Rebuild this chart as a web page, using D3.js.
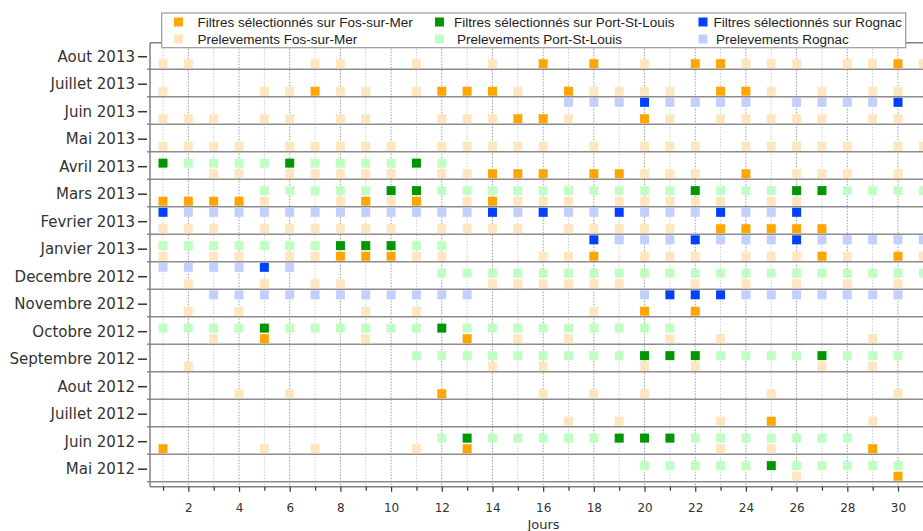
<!DOCTYPE html>
<html><head><meta charset="utf-8">
<script src="https://cdn.jsdelivr.net/npm/d3@7"></script>
<style>body{margin:0;background:#fff}svg{display:block}</style>
</head><body><svg id="c" width="923" height="531"></svg>
<script>
// ---------- DATA ----------
const months = ["Mai 2012","Juin 2012","Juillet 2012","Aout 2012","Septembre 2012","Octobre 2012",
  "Novembre 2012","Decembre 2012","Janvier 2013","Fevrier 2013","Mars 2013","Avril 2013",
  "Mai 2013","Juin 2013","Juillet 2013","Aout 2013"];
const dayTicks = [1,2,3,4,5,6,7,8,9,10,11,12,13,14,15,16,17,18,19,20,21,22,23,24,25,26,27,28,29,30,31];
const dayLabels = [2,4,6,8,10,12,14,16,18,20,22,24,26,28,30];

// Fos-sur-Mer (one list of days per month, Mai 2012 -> Aout 2013)
const fosPrelevements = [
  [26],
  [5,7,11,23,25],
  [17,19,23,29],
  [4,6,16,18,20,25,30],
  [2,14,16,20,22,27,29],
  [3,9,15,17,21,23,29],
  [2,4,9,11,18],
  [2,5,7,8,14,15,16,17,18,19,22,24,26,28,30],
  [1,3,4,6,7,11,12,16,17,20,21,22,24,25,26,28,31],
  [1,2,3,5,6,7,8,9,10,12,13,14,15,17,18,19,20,21],
  [5,8,10,13,15,16,17,19,20,21,22,23,25,26],
  [3,4,6,7,8,9,10,12,13,20,21,22,26,27,28,30],
  [1,2,3,4,6,7,8,9,10,12,13,14,15,16,18,20,21,22,24,25,26,27,28,30,31],
  [1,2,3,5,6,8,9,12,13,14,17,21,23,24,25,26,27,29,30],
  [1,5,6,8,9,11,15,18,19,20,21,25,27,29,30],
  [1,2,7,8,11,14,20,24,25,26,28,29,31]
];
const fosFiltres = [
  [30],
  [1,13,29],
  [25],
  [12],
  [],
  [5,13],
  [20,22],
  [],
  [8,9,10,18,27,30],
  [23,24,25,26,27],
  [1,2,3,4,9,11,14],
  [14,15,16,18,19,24],
  [],
  [15,16,20],
  [7,12,13,14,17,23,24],
  [16,18,22,23,30]
];
// Port-St-Louis
const pslPrelevements = [
  [20,21,22,23,24,26,27,28,29,30],
  [12,14,15,16,17,18,22,23,24,25,26,27,28],
  [],
  [],
  [11,12,13,14,15,16,17,18,19,23,24,25,26,28,29,30],
  [1,2,3,4,6,7,8,9,10,11,13,14,15,16,17,18,19,20,21],
  [],
  [12,13,14,15,16,17,18,19,20,21,22,23,24,25,26,27,28,29,30,31],
  [1,2,3,4,5,6,7,11,12],
  [],
  [5,6,7,8,9,12,13,14,15,16,17,18,19,20,21,23,24,25,28,29,30,31],
  [2,3,4,5,7,8,9,10,12],
  [],
  [],
  [],
  []
];
const pslFiltres = [
  [25],
  [13,19,20,21],
  [],
  [],
  [20,21,22,27],
  [5,12],
  [],
  [],
  [8,9,10],
  [],
  [10,11,22,26,27],
  [1,6,11],
  [],
  [],
  [],
  []
];
// Rognac
const rognacPrelevements = [
  [],
  [],
  [],
  [],
  [],
  [],
  [3,4,5,6,7,8,9,10,11,12,13,20,24,25,26,27,28,29,30],
  [1,2,3,4,6],
  [19,20,21,23,24,25,27,28,29,30,31],
  [2,3,4,5,6,7,8,9,10,11,12,13,15,17,18,20,21,22,24,25],
  [],
  [],
  [],
  [17,18,19,21,22,23,24,26,27,28,29],
  [],
  []
];
const rognacFiltres = [
  [],
  [],
  [],
  [],
  [],
  [],
  [21,22,23],
  [5],
  [18,22,26],
  [1,14,16,19,23,26],
  [],
  [],
  [],
  [20,30],
  [],
  []
];
const legendLabels = [
  "Filtres sélectionnés sur Fos-sur-Mer","Filtres sélectionnés sur Port-St-Louis","Filtres sélectionnés sur Rognac",
  "Prelevements Fos-sur-Mer","Prelevements Port-St-Louis","Prelevements Rognac"
];

// ---------- STYLE / LAYOUT ----------
const col = {
  fosDark:"#ffa500", pslDark:"#009600", rogDark:"#0040ff",
  fosLight:"#ffe6bf", pslLight:"#c0ffc4", rogLight:"#c2d0ff"
};
const stations = [
  {prel:fosPrelevements, filt:fosFiltres, light:col.fosLight, dark:col.fosDark, off:-0.273},
  {prel:pslPrelevements, filt:pslFiltres, light:col.pslLight, dark:col.pslDark, off:0.112},
  {prel:rognacPrelevements, filt:rognacFiltres, light:col.rogLight, dark:col.rogDark, off:0.323}
];

const svg = d3.select("#c");
const x = d3.scaleLinear().domain([1,30]).range([163,898]);
const y = d3.scaleLinear().domain([0,15]).range([468.7,56.2]);
const L = 150, T = 42.7, B = 486.7, R = 960;
const S = 9;

// vertical dotted grid
svg.append("g").selectAll("line").data(dayTicks).join("line")
  .attr("x1",d=>x(d)).attr("x2",d=>x(d)).attr("y1",T).attr("y2",B)
  .attr("stroke",d=>d%2===0?"#9c9c9c":"#cdcdcd")
  .attr("stroke-width",1).attr("stroke-dasharray","1.5,1.5");

// month separators
svg.append("g").selectAll("line").data(months).join("line")
  .attr("x1",147).attr("x2",R)
  .attr("y1",(m,i)=>y(i-0.473)).attr("y2",(m,i)=>y(i-0.473))
  .attr("stroke","#8c8c8c").attr("stroke-width",1.5);

// markers
stations.forEach(st=>{
  const lightPts = [], darkPts = [];
  st.prel.forEach((arr,i)=>arr.forEach(d=>lightPts.push({d,i})));
  st.filt.forEach((arr,i)=>arr.forEach(d=>darkPts.push({d,i})));
  svg.append("g").selectAll("rect").data(lightPts).join("rect")
    .attr("x",p=>x(p.d)-S/2).attr("y",p=>y(p.i+st.off)-S/2)
    .attr("width",S).attr("height",S).attr("fill",st.light);
  svg.append("g").selectAll("rect").data(darkPts).join("rect")
    .attr("x",p=>x(p.d)-S/2).attr("y",p=>y(p.i+st.off)-S/2)
    .attr("width",S).attr("height",S).attr("fill",st.dark);
});

// frame
const fr = svg.append("g").attr("stroke","#808080").attr("stroke-width",1.5);
fr.append("line").attr("x1",L).attr("x2",L).attr("y1",T).attr("y2",B);
fr.append("line").attr("x1",L).attr("x2",R).attr("y1",T).attr("y2",T);
fr.append("line").attr("x1",L).attr("x2",R).attr("y1",B).attr("y2",B);

// y axis
const ya = svg.append("g").attr("transform","translate(147,0)")
  .call(d3.axisLeft(y).tickValues(d3.range(months.length)).tickFormat(i=>months[i]).tickSize(9).tickPadding(3));
ya.select(".domain").remove();
ya.selectAll("line").attr("stroke","#333").attr("stroke-width",1.5);
ya.selectAll("text").attr("font-family","DejaVu Sans").attr("font-size",15).attr("fill","#333");

// x axis
const xa = svg.append("g").attr("transform",`translate(0,${B})`)
  .call(d3.axisBottom(x).tickValues(dayTicks).tickFormat(d=>dayLabels.includes(d)?d:"").tickSize(5).tickPadding(12));
xa.select(".domain").remove();
xa.selectAll("line").attr("stroke","#333").attr("stroke-width",1.2)
  .attr("y2",d=>d%2===0?5:4);
xa.selectAll("text").attr("font-family","DejaVu Sans").attr("font-size",12).attr("fill","#333");

svg.append("text").attr("x",543.5).attr("y",529).attr("text-anchor","middle")
  .attr("font-family","DejaVu Sans").attr("font-size",13).attr("fill","#333").text("Jours");

// legend
const lg = svg.append("g");
lg.append("rect").attr("x",161.7).attr("y",13).attr("width",744).attr("height",34.7)
  .attr("fill","#fff").attr("stroke","#9a9a9a").attr("stroke-width",1.2);
const legItems = [
  {c:col.fosDark, sx:178.5, tx:197.5, cy:22},
  {c:col.pslDark, sx:439.5, tx:454, cy:22},
  {c:col.rogDark, sx:703, tx:713.5, cy:22},
  {c:col.fosLight, sx:178.5, tx:197.5, cy:39},
  {c:col.pslLight, sx:439.5, tx:457, cy:39},
  {c:col.rogLight, sx:703, tx:716, cy:39}
];
legItems.forEach((it,k)=>{
  lg.append("rect").attr("x",it.sx-S/2).attr("y",it.cy-S/2).attr("width",S).attr("height",S).attr("fill",it.c);
  lg.append("text").attr("x",it.tx).attr("y",it.cy+4.7)
    .attr("font-family","Liberation Sans, Arial").attr("font-size",13.5).attr("fill","#222")
    .text(legendLabels[k]);
});
</script></body></html>
